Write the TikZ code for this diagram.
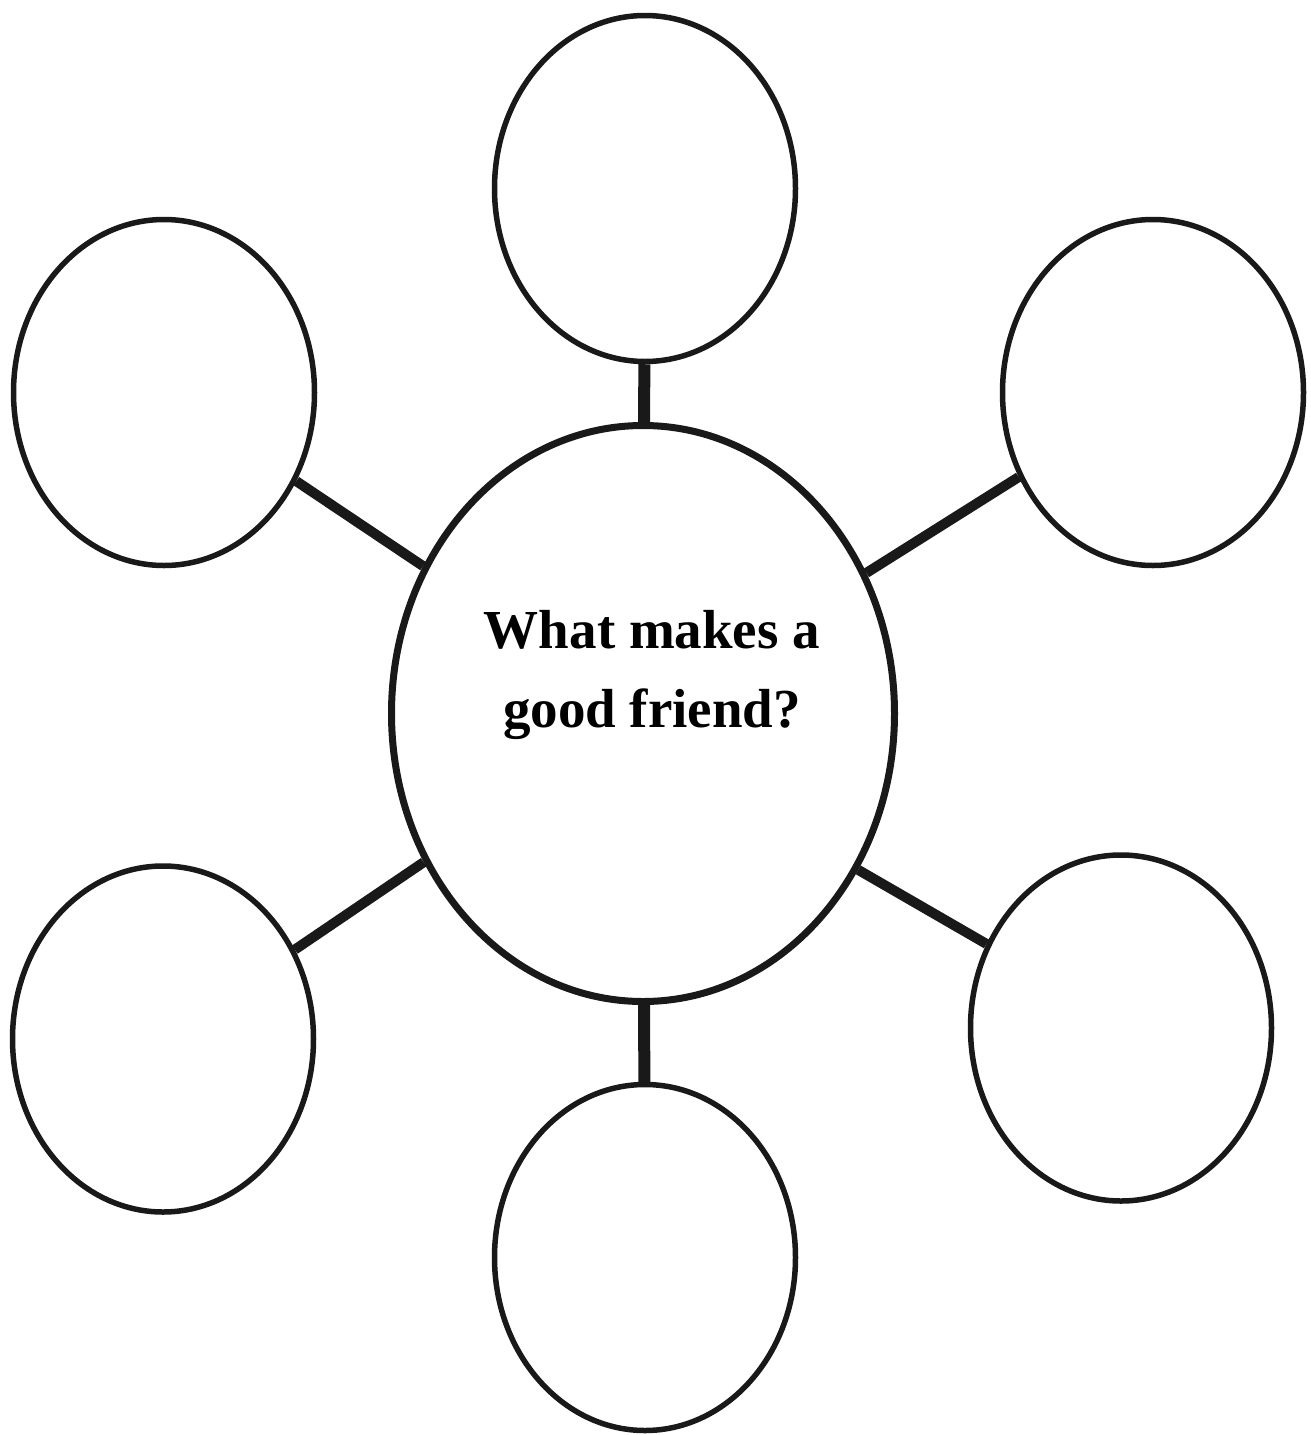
\documentclass[tikz,border=0pt]{standalone}
\usepackage{fontspec}
\setmainfont{Liberation Serif}
\usetikzlibrary{shapes.geometric}
\begin{document}
\begin{tikzpicture}[x=1pt,y=-1pt,
  bubble/.style={draw=black!90, line width=5.5pt, ellipse, minimum width=301pt, minimum height=346pt, inner sep=0pt},
  hub/.style={draw=black!90, line width=7pt, ellipse, minimum width=503pt, minimum height=576pt, inner sep=0pt},
  link/.style={draw=black!90, line width=10pt}]
\useasboundingbox[fill=white] (0,0) rectangle (1310,1435);
\node[hub] (c) at (643,713.5) {};
\node[bubble] (t) at (645,188.5) {};
\node[bubble] (ul) at (164,392.5) {};
\node[bubble] (ur) at (1153,392.5) {};
\node[bubble] (ll) at (163,1039) {};
\node[bubble] (lr) at (1121,1028) {};
\node[bubble] (b) at (645,1257.5) {};
\node[align=center, font=\fontsize{55}{79}\selectfont\bfseries, inner sep=0pt, anchor=base] (q) at (652,727) {What makes a\\ good friend?};
\draw[link, line width=12pt] (t) -- (c);
\draw[link, line width=12pt] (c) -- (b);
\draw[link] (ul) -- (c);
\draw[link] (ur) -- (c);
\draw[link] (ll) -- (c);
\draw[link] (c.-36) -- (lr.148);
\end{tikzpicture}
\end{document}
